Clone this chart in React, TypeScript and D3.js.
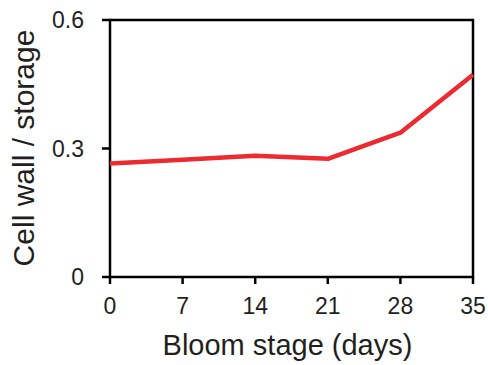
import React from "react";
import * as d3 from "d3";

const days = [0, 7, 14, 21, 28, 35];
const ratio = [0.265, 0.274, 0.283, 0.276, 0.337, 0.472];
const yTicks = [0, 0.3, 0.6];
const xLabel = "Bloom stage (days)";
const yLabel = "Cell wall / storage";

const W = 488;
const H = 365;
const M = { left: 110, right: 15, top: 20, bottom: 88 };

export default function App() {
  const x = d3.scaleLinear().domain([0, 35]).range([M.left, W - M.right]);
  const y = d3.scaleLinear().domain([0, 0.6]).range([H - M.bottom, M.top]);
  const line = d3
    .line<number>()
    .x((_, i) => x(days[i]))
    .y((d) => y(d));
  const font = "Arial, 'Liberation Sans', Helvetica, sans-serif";
  const x0 = x(0), x1 = x(35), y0 = y(0), y1 = y(0.6);
  return (
    <svg
      width={W}
      height={H}
      style={{ position: "absolute", left: 0, top: 0, background: "#fff" }}
      fontFamily={font}
    >
      <rect x={0} y={0} width={W} height={H} fill="#fff" />
      <rect x={x0} y={y1} width={x1 - x0} height={y0 - y1} fill="none" stroke="#000" strokeWidth={2.5} />
      {yTicks.map((t) => (
        <g key={"y" + t}>
          <line x1={x0 - 8} x2={x0} y1={y(t)} y2={y(t)} stroke="#000" strokeWidth={2.5} />
          <text x={x0 - 26} y={y(t)} dy="0.36em" textAnchor="end" fontSize={23} fill="#231f20">
            {String(t)}
          </text>
        </g>
      ))}
      {days.map((d) => (
        <g key={"x" + d}>
          <line x1={x(d)} x2={x(d)} y1={y0} y2={y0 + 7} stroke="#000" strokeWidth={2.5} />
          <text x={x(d)} y={y0 + 37} textAnchor="middle" fontSize={23} fill="#231f20">
            {String(d)}
          </text>
        </g>
      ))}
      <path d={line(ratio) || ""} fill="none" stroke="#ed2a30" strokeWidth={4.5} strokeLinejoin="round" />
      <text x={287.5} y={355} textAnchor="middle" fontSize={29} fill="#231f20">
        {xLabel}
      </text>
      <text
        transform={`translate(34, 148) rotate(-90)`}
        textAnchor="middle"
        fontSize={30}
        fill="#231f20"
      >
        {yLabel}
      </text>
    </svg>
  );
}
